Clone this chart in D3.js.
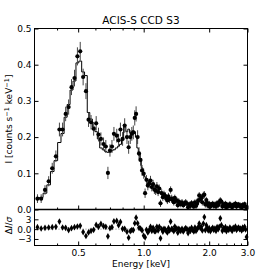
<!DOCTYPE html>
<html>
<head>
<meta charset="utf-8">
<script src="https://cdn.jsdelivr.net/npm/d3@7"></script>
<style>
body { margin: 0; background: #fff; }
svg text { font-family: "DejaVu Sans", sans-serif; fill: #000; }
</style>
</head>
<body>
<svg id="chart" width="274" height="274"></svg>
<script>
// spectrum bins: energy [keV], flux, 1-sigma error, model, residual (dI/sigma)
var energy = [0.325,0.338,0.352,0.366,0.380,0.395,0.410,0.424,0.438,0.452,0.466,0.481,0.496,0.511,0.527,0.543,0.558,0.573,0.589,0.605,0.620,0.636,0.654,0.670,0.685,0.700,0.715,0.730,0.752,0.767,0.782,0.800,0.818,0.838,0.853,0.868,0.882,0.896,0.910,0.923,0.938,0.952,0.967,0.983,
  1.000,1.015,1.030,1.045,1.060,1.075,1.090,1.105,1.120,1.135,1.150,1.165,1.180,
  1.195,1.210,1.225,1.240,1.255,1.270,1.285,1.300,1.315,1.330,1.345,1.360,1.375,1.390,1.405,1.420,1.435,1.450,1.465,1.480,
  1.50,1.52,1.54,1.56,1.58,1.60,1.62,1.64,1.66,1.68,1.70,1.72,1.74,1.76,1.78,1.80,1.82,1.84,1.86,1.88,1.90,1.92,1.94,1.96,1.98,2.00,
  2.025,2.050,2.075,2.100,2.125,2.150,2.175,2.200,2.225,2.250,2.275,2.300,2.325,2.350,2.375,2.400,
  2.43,2.46,2.49,2.52,2.55,2.58,2.61,2.64,2.67,2.70,2.73,2.76,2.79,2.82,2.85,2.88,2.91,2.94,2.97];

var flux = [0.030,0.030,0.054,0.078,0.114,0.147,0.221,0.221,0.264,0.283,0.338,0.363,0.423,0.437,0.366,0.327,0.248,0.241,0.223,0.238,0.207,0.195,0.181,0.174,0.101,0.163,0.174,0.209,0.204,0.191,0.221,0.195,0.232,0.200,0.172,0.200,0.209,0.213,0.253,0.264,0.200,0.155,0.137,0.108,
  0.099,0.045,0.082,0.066,0.072,0.080,0.062,0.070,0.055,0.052,0.064,0.048,0.058,
  0.017,0.045,0.034,0.042,0.038,0.030,0.025,0.036,0.028,0.054,0.030,0.026,0.020,0.032,0.024,0.025,0.012,0.022,0.018,0.015,
  0.020,0.012,0.016,0.020,0.016,0.006,0.014,0.010,0.018,0.012,0.008,0.020,0.010,0.016,0.025,0.039,0.028,0.032,0.020,0.039,0.041,0.014,0.026,0.018,0.010,0.016,
  0.008,0.012,0.016,0.010,0.014,0.008,0.018,0.012,0.020,0.025,0.022,0.008,0.014,0.010,0.016,0.006,
  0.012,0.009,0.015,0.010,0.006,0.013,0.011,0.016,0.008,0.012,0.014,0.009,0.011,0.006,0.013,0.010,0.015,0.008,0.004];

var fluxErr = [0.012,0.012,0.013,0.014,0.015,0.016,0.019,0.019,0.020,0.021,0.022,0.023,0.025,0.026,0.023,0.022,0.020,0.020,0.019,0.020,0.019,0.018,0.018,0.018,0.017,0.017,0.018,0.019,0.019,0.018,0.019,0.019,0.020,0.019,0.018,0.019,0.019,0.019,0.021,0.021,0.019,0.017,0.016,0.015,
  0.014,0.013,0.013,0.013,0.013,0.013,0.012,0.012,0.012,0.012,0.012,0.011,0.011,
  0.010,0.011,0.010,0.010,0.010,0.010,0.010,0.010,0.010,0.010,0.011,0.010,0.009,0.009,0.009,0.009,0.009,0.009,0.009,0.009,
  0.009,0.008,0.009,0.009,0.009,0.008,0.008,0.009,0.008,0.009,0.008,0.008,0.009,0.008,0.009,0.009,0.010,0.010,0.009,0.010,0.010,0.009,0.009,0.008,0.008,0.008,
  0.008,0.008,0.008,0.008,0.008,0.008,0.008,0.008,0.009,0.009,0.008,0.008,0.008,0.008,0.008,0.007,
  0.008,0.007,0.008,0.007,0.007,0.008,0.007,0.008,0.007,0.008,0.007,0.007,0.008,0.007,0.007,0.008,0.007,0.007,0.007];

var model = [0.030,0.033,0.045,0.068,0.105,0.135,0.185,0.210,0.255,0.290,0.330,0.355,0.405,0.410,0.380,0.370,0.268,0.250,0.228,0.215,0.195,0.170,0.165,0.160,0.158,0.158,0.162,0.165,0.170,0.175,0.180,0.192,0.228,0.215,0.222,0.212,0.215,0.218,0.215,0.200,0.170,0.150,0.135,0.115,
  0.095,0.090,0.085,0.080,0.076,0.072,0.068,0.065,0.062,0.059,0.056,0.053,0.050,
  0.048,0.045,0.043,0.041,0.039,0.037,0.035,0.033,0.032,0.030,0.029,0.027,0.026,0.025,0.024,0.023,0.022,0.021,0.020,0.020,
  0.019,0.018,0.017,0.017,0.016,0.016,0.015,0.015,0.015,0.014,0.014,0.015,0.015,0.016,0.018,0.021,0.024,0.025,0.024,0.022,0.019,0.017,0.015,0.014,0.014,0.013,
  0.013,0.013,0.013,0.012,0.012,0.012,0.013,0.014,0.014,0.013,0.012,0.012,0.011,0.011,0.011,0.011,
  0.011,0.011,0.011,0.010,0.010,0.010,0.010,0.010,0.010,0.010,0.010,0.009,0.009,0.009,0.009,0.009,0.009,0.009,0.009];

var resid = [0.6,0.2,0.4,0.5,0.6,0.7,2.3,0.5,0.4,-0.3,0.3,0.6,0.8,1.0,-0.9,-2.1,-1.0,-0.5,-0.2,1.3,0.7,1.6,0.9,0.7,-2.2,0.3,0.6,2.4,2.5,1.2,2.2,0.1,0.1,-0.8,-2.6,-0.6,-0.3,-0.3,1.8,3.5,1.8,0.4,0.2,-0.4,
  -2.0,-2.5,-0.2,-1.0,-0.3,0.7,-0.5,0.4,-0.6,-0.6,0.7,-0.4,0.7,
  -2.8,0.0,-0.8,0.1,-0.1,-0.6,-1.0,0.3,-0.4,2.3,0.1,-0.1,-0.6,0.8,0.0,0.2,-1.1,0.1,-0.2,-0.5,
  0.1,-0.7,-0.1,0.3,0.0,-1.2,-0.1,-0.5,0.4,-0.2,-0.7,0.5,-0.5,0.0,0.6,1.7,0.4,0.7,-0.4,1.7,3.7,-0.3,1.2,0.4,-0.4,0.3,
  -0.6,-0.1,0.4,-0.2,0.2,-0.5,0.6,0.0,0.7,3.3,1.2,-0.5,0.3,-0.1,0.6,-0.6,
  0.1,-0.2,0.5,0.0,-0.5,0.4,0.1,0.8,-0.2,0.2,0.5,0.0,0.2,-0.4,0.5,0.1,0.7,-0.1,-2.4];

var xMajor = [0.5, 1.0, 2.0, 3.0];
var xMajorLabels = ["0.5", "1.0", "2.0", "3.0"];
var xMinorTop = [0.4, 0.6, 0.7, 0.8, 0.9];
var xMinorBottom = [0.4, 0.6, 0.7, 0.8, 0.9, 1.15, 1.3, 1.45, 1.6, 1.75, 1.9, 2.2, 2.4, 2.6, 2.8];
var yTicks = [0.0, 0.1, 0.2, 0.3, 0.4, 0.5];
var rTicks = [-3, 0, 3];
var rTickLabels = ["\u22123", "0.0", "3"];

function drawChart() {
    var left = 34.5, right = 247.5, topEdge = 28.5, mid = 209.5, bottom = 245.5;

    var svg = d3.select("#chart");

    var x = d3.scaleLog().domain([0.315, 3.0]).range([left, right]);
    var y = d3.scaleLinear().domain([0, 0.5]).range([mid, topEdge]);
    var yr = d3.scaleLinear().domain([-5, 6]).range([bottom, mid]);

    var data = energy.map(function(e, i) {
        return {e: e, f: flux[i], err: fluxErr[i], m: model[i], r: resid[i]};
    });

    svg.append("defs").append("clipPath").attr("id", "clipTop")
        .append("rect").attr("x", left).attr("y", topEdge)
        .attr("width", right - left).attr("height", mid - topEdge);

    // --- top panel: model + data
    var gTop = svg.append("g").attr("clip-path", "url(#clipTop)");

    var stepLine = d3.line()
        .x(function(d) { return x(d.e); })
        .y(function(d) { return y(d.m); })
        .curve(d3.curveStep);

    gTop.append("path")
        .datum(data)
        .attr("d", stepLine)
        .attr("fill", "none")
        .attr("stroke", "#000")
        .attr("stroke-width", 1);

    gTop.selectAll(".err")
        .data(data)
        .enter().append("line")
        .attr("x1", function(d) { return x(d.e); })
        .attr("x2", function(d) { return x(d.e); })
        .attr("y1", function(d) { return y(d.f - d.err); })
        .attr("y2", function(d) { return y(d.f + d.err); })
        .attr("stroke", "#444")
        .attr("stroke-width", 1);

    gTop.selectAll(".pt")
        .data(data)
        .enter().append("circle")
        .attr("cx", function(d) { return x(d.e); })
        .attr("cy", function(d) { return y(d.f); })
        .attr("r", 2.1)
        .attr("fill", "#000");

    // --- residual panel
    svg.append("line")
        .attr("x1", left).attr("x2", right)
        .attr("y1", yr(0)).attr("y2", yr(0))
        .attr("stroke", "#888")
        .attr("stroke-width", 1)
        .attr("stroke-dasharray", "1,2");

    svg.append("g").selectAll("path")
        .data(data)
        .enter().append("path")
        .attr("d", d3.symbol().type(d3.symbolDiamond).size(13))
        .attr("transform", function(d) { return "translate(" + x(d.e) + "," + yr(d.r) + ")"; })
        .attr("fill", "#000");

    // --- axes (ticks pointing inward, matplotlib style)
    function styleAxis(g) {
        g.select(".domain").remove();
        g.selectAll("line").attr("stroke", "#000");
        g.selectAll("text").attr("font-size", "9px").attr("font-family", "DejaVu Sans");
    }

    function xAxis(axisFn, yPos, values, size, labels) {
        var a = axisFn(x).tickValues(values).tickSize(-size).tickSizeOuter(0).tickPadding(4);
        a.tickFormat(labels ? function(d, i) { return labels[i]; } : "");
        svg.append("g").attr("transform", "translate(0," + yPos + ")").call(a).call(styleAxis);
    }

    xAxis(d3.axisTop, topEdge, xMajor, 4);
    xAxis(d3.axisTop, topEdge, xMinorTop, 2);
    xAxis(d3.axisBottom, mid, xMajor, 4);
    xAxis(d3.axisBottom, mid, xMinorTop, 2);
    xAxis(d3.axisBottom, bottom, xMajor, 4, xMajorLabels);
    xAxis(d3.axisBottom, bottom, xMinorBottom, 2);

    svg.append("g").attr("transform", "translate(" + left + ",0)")
        .call(d3.axisLeft(y).tickValues(yTicks).tickSize(-4).tickSizeOuter(0).tickPadding(3).tickFormat(d3.format(".1f")))
        .call(styleAxis);
    svg.append("g").attr("transform", "translate(" + right + ",0)")
        .call(d3.axisRight(y).tickValues(yTicks).tickSize(-4).tickSizeOuter(0).tickFormat(""))
        .call(styleAxis);

    svg.append("g").attr("transform", "translate(" + left + ",0)")
        .call(d3.axisLeft(yr).tickValues(rTicks).tickSize(-4).tickSizeOuter(0).tickPadding(3)
            .tickFormat(function(d, i) { return rTickLabels[i]; }))
        .call(styleAxis);
    svg.append("g").attr("transform", "translate(" + right + ",0)")
        .call(d3.axisRight(yr).tickValues(rTicks).tickSize(-4).tickSizeOuter(0).tickFormat(""))
        .call(styleAxis);

    // frames
    svg.append("rect").attr("x", left).attr("y", topEdge)
        .attr("width", right - left).attr("height", mid - topEdge)
        .attr("fill", "none").attr("stroke", "#000").attr("stroke-width", 1);
    svg.append("rect").attr("x", left).attr("y", mid)
        .attr("width", right - left).attr("height", bottom - mid)
        .attr("fill", "none").attr("stroke", "#000").attr("stroke-width", 1);
    svg.append("line").attr("x1", left).attr("x2", right)
        .attr("y1", mid).attr("y2", mid)
        .attr("stroke", "#000").attr("stroke-width", 1.6);

    // --- labels
    svg.append("text")
        .attr("x", (left + right) / 2).attr("y", 23.5)
        .attr("text-anchor", "middle")
        .attr("font-size", "10.5px")
        .text("ACIS-S CCD S3");

    svg.append("text")
        .attr("x", (left + right) / 2).attr("y", 267)
        .attr("text-anchor", "middle")
        .attr("font-size", "9px")
        .text("Energy [keV]");

    var yl = svg.append("text")
        .attr("transform", "translate(12," + ((topEdge + mid) / 2) + ") rotate(-90)")
        .attr("text-anchor", "middle")
        .attr("font-size", "9px");
    yl.append("tspan").text("I [counts s");
    yl.append("tspan").attr("font-size", "6.5px").attr("dy", -3.5).text("\u22121");
    yl.append("tspan").attr("dy", 3.5).text(" keV");
    yl.append("tspan").attr("font-size", "6.5px").attr("dy", -3.5).text("\u22121");
    yl.append("tspan").attr("dy", 3.5).text("]");

    var rl = svg.append("text")
        .attr("transform", "translate(12," + ((mid + bottom) / 2 - 2) + ") rotate(-90)")
        .attr("text-anchor", "middle")
        .attr("font-size", "9px");
    rl.append("tspan").text("\u0394");
    rl.append("tspan").attr("font-style", "italic").text("I");
    rl.append("tspan").text("/");
    rl.append("tspan").attr("font-style", "italic").text("\u03c3");
}

drawChart();
</script>
</body>
</html>
